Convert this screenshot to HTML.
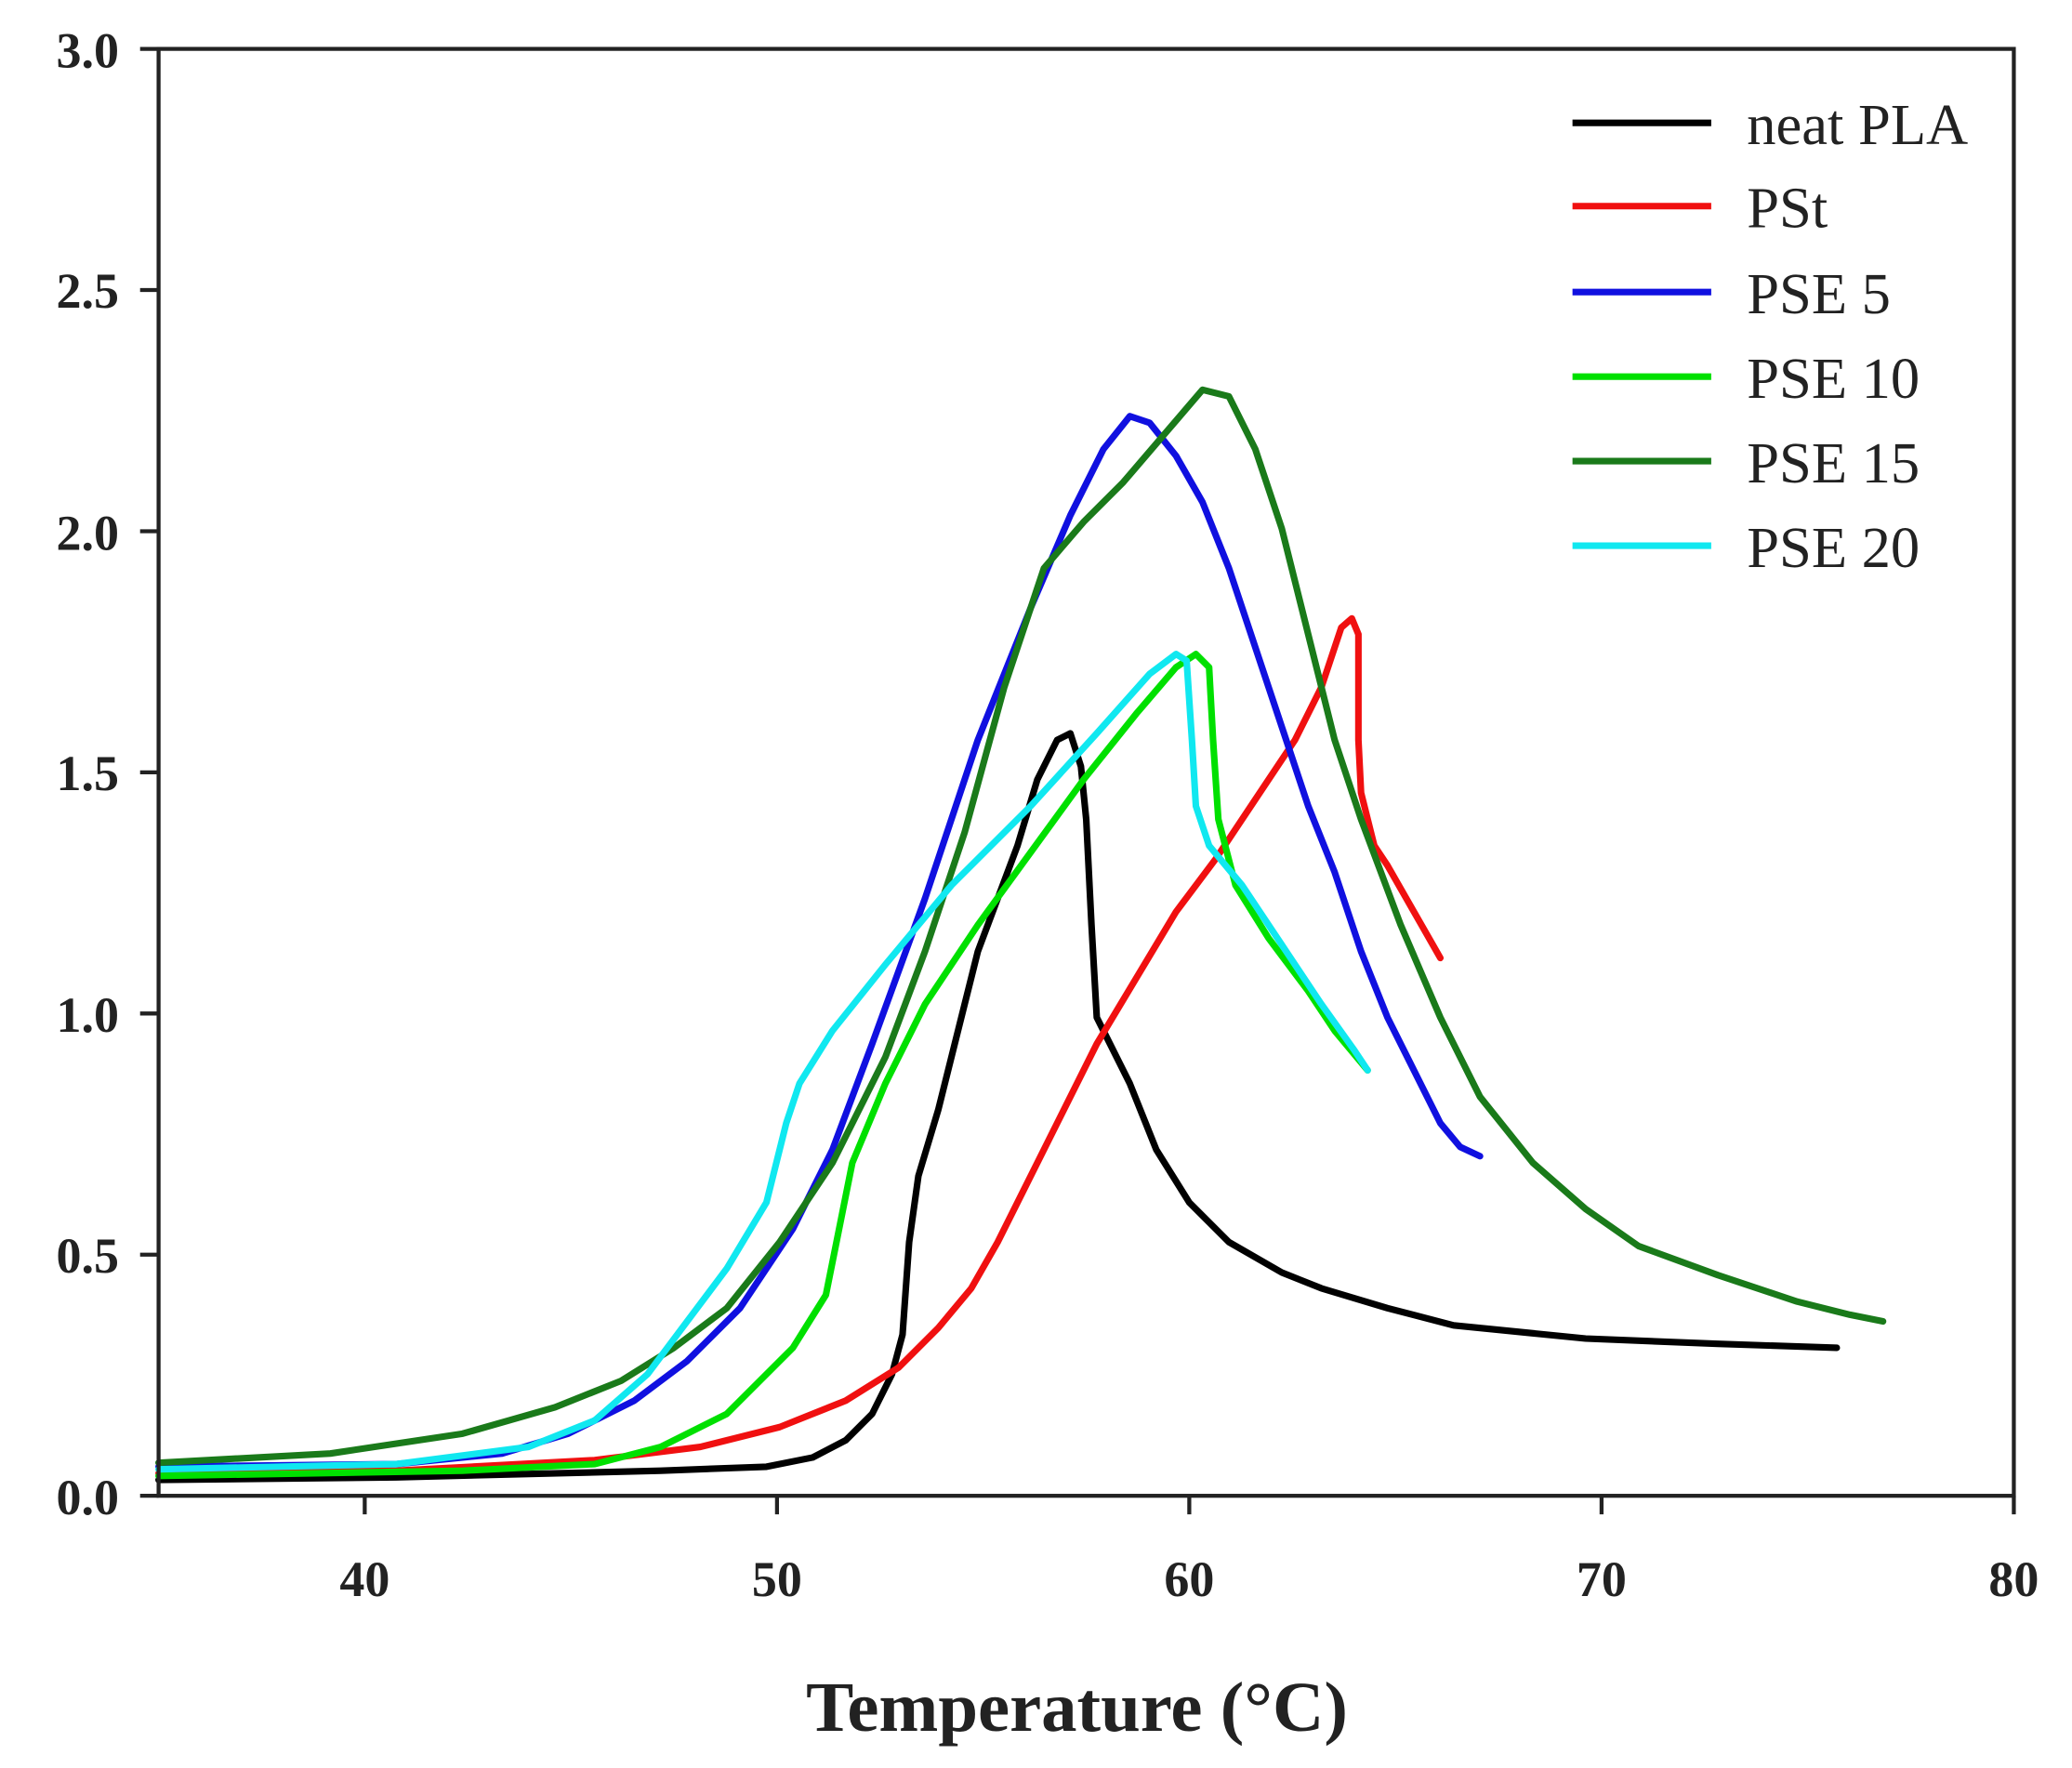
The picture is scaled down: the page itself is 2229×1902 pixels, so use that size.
<!DOCTYPE html>
<html><head><style>html,body{margin:0;padding:0;background:#fff}svg{display:block}</style></head>
<body>
<svg width="2229" height="1902" viewBox="0 0 1568 1338" xmlns="http://www.w3.org/2000/svg" font-family="Liberation Serif, serif">
<rect width="1568" height="1338" fill="#fff"/>
<g fill="none" stroke-width="5" stroke-linejoin="round" stroke-linecap="round">
<polyline stroke="#000" points="120,1120 300,1118 500,1113 580,1110 615,1103 640,1090 660,1070 675,1040 683,1010 688,940 695,890 710,840 725,780 740,720 755,680 770,640 785,590 800,560 810,555 818,580 822,620 826,700 830,770 840,790 855,820 875,870 900,910 930,940 970,963 1000,975 1050,990 1100,1003 1200,1013 1300,1017 1390,1020"/>
<polyline stroke="#f01010" points="120,1115 300,1113 450,1105 530,1095 590,1080 640,1060 680,1035 710,1005 735,975 755,940 775,900 800,850 830,790 860,740 890,690 920,650 950,605 980,560 1000,520 1015,475 1023,468 1028,480 1028,560 1030,600 1040,640 1050,655 1070,690 1090,725"/>
<polyline stroke="#1010e0" points="120,1110 300,1108 380,1100 430,1085 480,1060 520,1030 560,990 600,930 630,870 660,790 700,680 740,560 780,460 810,390 835,340 855,315 870,320 890,345 910,380 930,430 950,490 970,550 990,610 1010,660 1030,720 1050,770 1070,810 1090,850 1105,868 1120,875"/>
<polyline stroke="#00e000" points="120,1117 350,1113 450,1108 500,1095 550,1070 600,1020 625,980 635,930 645,880 670,820 700,760 740,700 780,645 820,590 860,540 890,505 905,495 915,505 918,560 922,620 935,670 960,710 990,750 1010,780 1035,810"/>
<polyline stroke="#1a7a1a" points="120,1107 250,1100 350,1085 420,1065 470,1045 510,1020 550,990 590,940 630,880 670,800 700,720 730,630 760,520 790,430 820,395 850,365 880,330 910,295 930,300 950,340 970,400 990,480 1010,560 1030,620 1060,700 1090,770 1120,830 1160,880 1200,915 1240,943 1300,965 1360,985 1400,995 1425,1000"/>
<polyline stroke="#10e8f0" points="120,1112 300,1108 400,1095 450,1075 490,1040 520,1000 550,960 580,910 595,850 605,820 630,780 670,730 720,670 780,610 830,555 870,510 890,495 898,500 902,560 905,610 915,640 940,670 970,715 1000,760 1025,795 1035,810"/>
</g>
<g stroke="#222" stroke-width="3" fill="none">
<rect x="120" y="37" width="1404" height="1095"/>
<path d="M276,1132v14M588,1132v14M900,1132v14M1212,1132v14M1524,1132v14M120,1132h-14M120,949.5h-14M120,767h-14M120,584.5h-14M120,402h-14M120,219.5h-14M120,37h-14"/>
</g>
<g font-size="38" font-weight="bold" fill="#222" text-anchor="end">
<text x="90" y="1146">0.0</text><text x="90" y="963">0.5</text><text x="90" y="781">1.0</text><text x="90" y="598">1.5</text><text x="90" y="416">2.0</text><text x="90" y="233">2.5</text><text x="90" y="51">3.0</text>
</g>
<g font-size="38" font-weight="bold" fill="#222" text-anchor="middle">
<text x="276" y="1208">40</text><text x="588" y="1208">50</text><text x="900" y="1208">60</text><text x="1212" y="1208">70</text><text x="1524" y="1208">80</text>
</g>
<text x="815" y="1310" font-size="54" font-weight="bold" text-anchor="middle" fill="#222">Temperature (°C)</text>
<g stroke-width="5">
<line x1="1190" y1="93" x2="1295" y2="93" stroke="#000"/>
<line x1="1190" y1="156" x2="1295" y2="156" stroke="#f01010"/>
<line x1="1190" y1="221" x2="1295" y2="221" stroke="#1010e0"/>
<line x1="1190" y1="285" x2="1295" y2="285" stroke="#00e000"/>
<line x1="1190" y1="349" x2="1295" y2="349" stroke="#1a7a1a"/>
<line x1="1190" y1="413" x2="1295" y2="413" stroke="#10e8f0"/>
</g>
<g font-size="44" fill="#222">
<text x="1322" y="109">neat PLA</text><text x="1322" y="172">PSt</text><text x="1322" y="237">PSE 5</text><text x="1322" y="301">PSE 10</text><text x="1322" y="365">PSE 15</text><text x="1322" y="429">PSE 20</text>
</g>
</svg>
</body></html>
